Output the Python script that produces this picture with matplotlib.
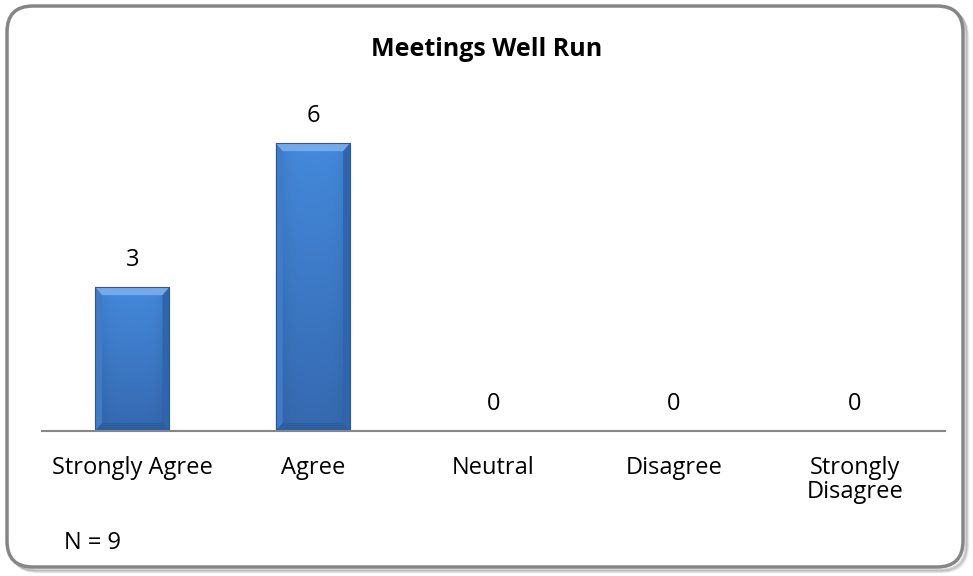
import matplotlib
matplotlib.use('Agg')
import matplotlib.pyplot as plt
import numpy as np
from matplotlib.patches import FancyBboxPatch, Polygon

categories = ['Strongly Agree', 'Agree', 'Neutral', 'Disagree', 'Strongly\nDisagree']
counts = [3, 6, 0, 0, 0]
title = 'Meetings Well Run'
note = 'N = 9'

plt.rcParams['font.family'] = ['Open Sans', 'DejaVu Sans']

W, H = 973, 576
fig = plt.figure(figsize=(W / 100, H / 100), dpi=100)

# background axes in pixel units for the rounded frame
bg = fig.add_axes([0, 0, 1, 1])
bg.set_xlim(0, W)
bg.set_ylim(H, 0)
bg.axis('off')
for off, a in [(4, 0.06), (3, 0.10), (2, 0.14)]:
    bg.add_patch(FancyBboxPatch((8 + off, 7 + off), 956, 561,
                                boxstyle='round,pad=0,rounding_size=26',
                                facecolor='none', edgecolor='black', alpha=a, lw=2))
bg.add_patch(FancyBboxPatch((7, 6), 956, 561, boxstyle='round,pad=0,rounding_size=26',
                            facecolor='white', edgecolor='#868686', lw=2.5))


def fx(px):
    return px / W


def fy(py):
    return 1 - py / H


ax = fig.add_axes([fx(42), fy(431), fx(945) - fx(42), fy(95) - fy(431)])
ax.patch.set_visible(False)

x = np.arange(len(categories))
bars = ax.bar(x, counts, width=0.41, color='#3b78c6', edgecolor='none', zorder=3)

top_c = np.array([0x44, 0x89, 0xdb]) / 255
bot_c = np.array([0x35, 0x69, 0xb0]) / 255
for b in bars:
    h = b.get_height()
    if h <= 0:
        continue
    x0, w = b.get_x(), b.get_width()
    # body gradient, darker to the bottom and slightly at the sides
    v = np.linspace(0, 1, 80)[:, None, None]
    u = np.linspace(-1, 1, 40)[None, :, None]
    rgb = bot_c * (1 - v) + top_c * v
    rgb = rgb * (1 - 0.12 * np.abs(u) ** 4)
    im = ax.imshow(np.clip(rgb, 0, 1), extent=[x0, x0 + w, 0, h], aspect='auto',
                   origin='lower', zorder=3.5, interpolation='bilinear')
    im.set_clip_path(b)
    bx, by = 0.038, 0.17
    # bevels: top, left, right, bottom
    ax.add_patch(Polygon([[x0, h], [x0 + w, h], [x0 + w - bx, h - by], [x0 + bx, h - by]],
                         closed=True, color='#74aaec', lw=0, zorder=3.7))
    ax.add_patch(Polygon([[x0, 0], [x0, h], [x0 + bx, h - by], [x0 + bx, by]],
                         closed=True, color='#3e7cca', lw=0, zorder=3.6))
    ax.add_patch(Polygon([[x0 + w, 0], [x0 + w, h], [x0 + w - bx, h - by], [x0 + w - bx, by]],
                         closed=True, color='#2f65ad', lw=0, zorder=3.6))
    ax.add_patch(Polygon([[x0, 0], [x0 + w, 0], [x0 + w - bx, by], [x0 + bx, by]],
                         closed=True, color='#2e5e9f', lw=0, zorder=3.6))
    ax.plot([x0, x0, x0 + w, x0 + w], [0, h, h, 0], color='#2a5896', lw=0.8, zorder=3.8)

for xi, c in zip(x, counts):
    ax.text(xi, c + 0.32, str(c), ha='center', va='bottom', fontsize=17, color='#000000')

ax.set_xlim(-0.5, len(categories) - 0.5)
ax.set_ylim(0, 7)
ax.set_xticks(x)
ax.set_xticklabels(categories, fontsize=17, linespacing=1.0)
ax.tick_params(axis='x', length=0, pad=18)
ax.set_yticks([])
for s in ['top', 'right', 'left']:
    ax.spines[s].set_visible(False)
ax.spines['bottom'].set_color('#868686')
ax.spines['bottom'].set_linewidth(1.5)
ax.spines['bottom'].set_zorder(4)

fig.text(0.5, fy(49), title, ha='center', va='center', fontsize=18, fontweight='bold')
fig.text(fx(64), fy(543), note, ha='left', va='center', fontsize=17)

fig.savefig('out.png', dpi=100)
